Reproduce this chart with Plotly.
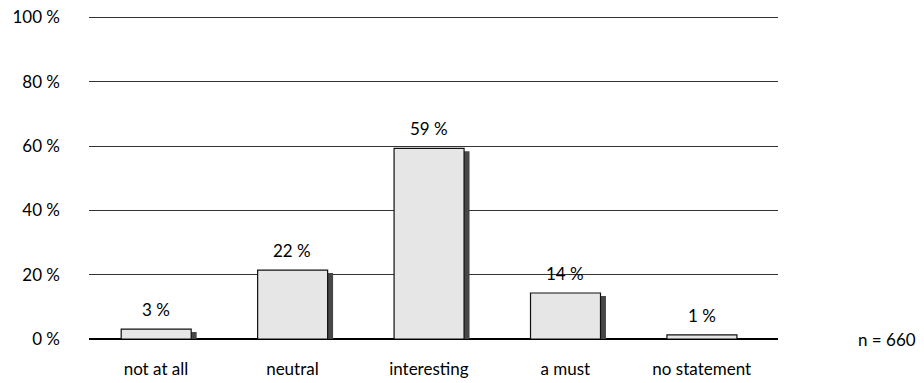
import plotly.graph_objects as go

categories = ["not at all", "neutral", "interesting", "a must", "no statement"]
values = [3.1, 21.4, 59.3, 14.3, 1.3]
value_labels = ["3 %", "22 %", "59 %", "14 %", "1 %"]
y_ticks = [0, 20, 40, 60, 80, 100]
y_tick_labels = ["0 %", "20 %", "40 %", "60 %", "80 %", "100 %"]
sample_note = "n = 660"

FONT = "Lato"
FS = 17
bar_w = 0.513
bar_off = -0.255
shadow_dx = 0.04
shadow_drop = 0.9

fig = go.Figure()
# shadow
fig.add_trace(go.Bar(
    x=categories, y=[v - shadow_drop if v > 2 else 0 for v in values],
    width=bar_w, offset=bar_off + shadow_dx,
    marker=dict(color="#474747", line=dict(width=0)),
    hoverinfo="skip", showlegend=False,
))
# main bars
fig.add_trace(go.Bar(
    x=categories, y=values,
    width=bar_w, offset=bar_off,
    marker=dict(color="#e6e6e6", line=dict(color="#111111", width=1.2)),
    showlegend=False,
))

for c, v, t in zip(categories, values, value_labels):
    fig.add_annotation(x=c, y=v, text=t, showarrow=False, yanchor="bottom",
                       xshift=0, yshift=7, font=dict(family=FONT, size=FS, color="#000"))

fig.add_annotation(xref="paper", yref="y", x=1.113, y=0, xanchor="left", yanchor="middle",
                   text=sample_note, showarrow=False, font=dict(family=FONT, size=FS, color="#000"))

fig.update_layout(
    width=924, height=383,
    margin=dict(l=89, r=146, t=11, b=44, autoexpand=False),
    paper_bgcolor="white", plot_bgcolor="white",
    barmode="overlay",
    font=dict(family=FONT, size=FS, color="#000"),
    xaxis=dict(range=[-0.491, 4.559], showgrid=False, showline=False, automargin=False,
               ticks="", ticklabelstandoff=18, tickfont=dict(size=FS, color="#000")),
    yaxis=dict(range=[0, 102], tickvals=y_ticks, ticktext=y_tick_labels, automargin=False,
               showgrid=True, gridcolor="#333333", gridwidth=1.2,
               zeroline=True, zerolinecolor="#000000", zerolinewidth=2.2,
               showline=False, ticks="", ticklabelstandoff=28,
               tickfont=dict(size=FS, color="#000")),
)

fig.write_html("out.html")
